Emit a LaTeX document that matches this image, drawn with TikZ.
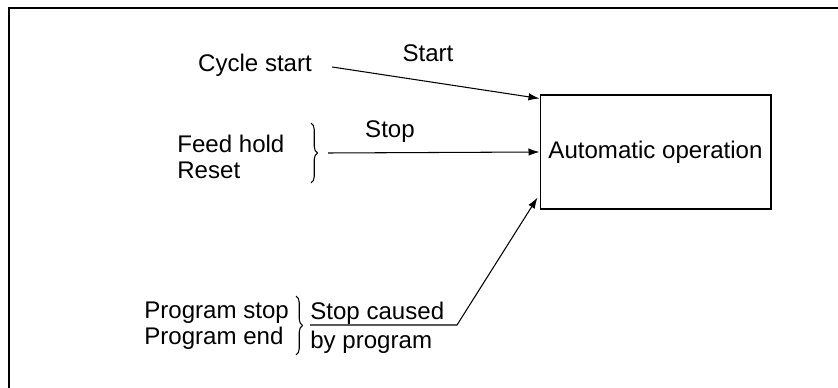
\documentclass[tikz,border=0pt]{standalone}
\usepackage{fontspec}
\setmainfont{Liberation Sans}
\usetikzlibrary{arrows.meta,positioning,decorations.pathreplacing,calc}

\begin{document}
\begin{tikzpicture}[x=0.02cm,y=-0.02cm,
      lbl/.style={inner sep=0pt,align=left,
        font=\fontsize{13.7}{14.8}\selectfont},
      opbox/.style={draw,semithick,minimum width=4.62cm,
        minimum height=2.28cm,lbl},
      arr/.style={-{Latex[length=2.2mm,width=1.5mm]},semithick},
      brc/.style={decorate,decoration={brace,amplitude=1.3mm},semithick}
    ]
      \useasboundingbox (0,0) rectangle (838,388);
      \draw[line width=1.1pt] (9,388) -- (9,8) -- (838,8);

      % operation box
      \node[opbox] (auto) at (655.5,152) {Automatic operation};

      % start
      \node[lbl] (cyc) at (255,65) {Cycle start};
      \node[lbl] (start) at (428,53) {Start};
      \coordinate (cycout) at ($(cyc.east)+(20,2)$);
      \draw[arr] (cycout) -- ($(auto.north west)+(0,4)$);

      % stop
      \node[lbl,anchor=west] (feed) at (177,157) {Feed hold\\Reset};
      \draw[brc] (311,123) -- (311,183) coordinate[midway,xshift=0.16cm] (feedtip);
      \node[lbl] (stop) at (390,132) {Stop};
      \draw[arr] ($(feedtip)+(9,0)$) -- (auto.west);

      % stop caused by program
      \node[lbl,anchor=west] (prog) at (144,325.5) {Program stop\\Program end};
      \draw[brc] (296,296) -- (296,355);
      \node[lbl,anchor=west] (sc) at (310,313) {Stop caused};
      \node[lbl,anchor=west] (bp) at (310,342) {by program};
      \coordinate (bend) at (457,325);
      \draw[arr] (sc.west |- bend) -- (bend) -- ($(auto.south west)+(-2,-12)$);
    \end{tikzpicture}
\end{document}
